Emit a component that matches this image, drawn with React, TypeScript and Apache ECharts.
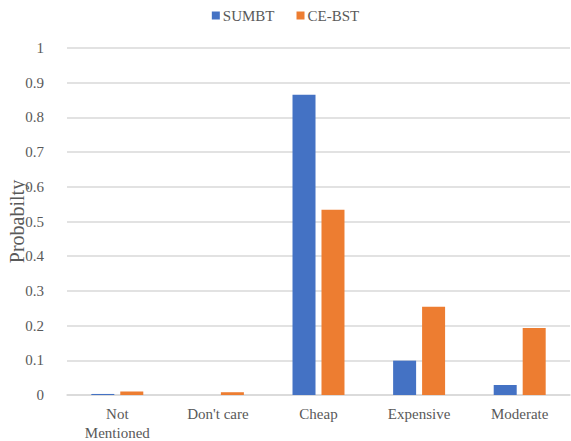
import React, { useEffect, useRef } from "react";
import * as echarts from "echarts";

const categories = ["Not\nMentioned", "Don't care", "Cheap", "Expensive", "Moderate"];
const sumbt = [0.003, 0, 0.865, 0.099, 0.029];
const ceBst = [0.01, 0.008, 0.534, 0.254, 0.193];
const seriesNames = ["SUMBT", "CE-BST"];

const FONT = "Times New Roman, Liberation Serif, DejaVu Serif, serif";

export default function App() {
  const ref = useRef<HTMLDivElement>(null);
  useEffect(() => {
    if (!ref.current) return;
    const chart = echarts.init(ref.current, undefined, { renderer: "svg" });
    chart.setOption({
      animation: false,
      textStyle: { fontFamily: FONT },
      legend: {
        top: 3,
        left: "center",
        itemWidth: 8,
        itemHeight: 8,
        itemGap: 22,
        icon: "rect",
        textStyle: { fontFamily: FONT, fontSize: 15, color: "#595959", padding: [0, 0, 0, -2] },
        data: seriesNames,
      },
      grid: { left: 67, right: 1, top: 48, bottom: 46, containLabel: false, outerBoundsMode: "none" },
      xAxis: {
        type: "category",
        data: categories,
        axisLine: { show: true, lineStyle: { color: "#d9d9d9", width: 1.5 } },
        axisTick: { show: false },
        axisLabel: { fontFamily: FONT, fontSize: 15, color: "#595959", margin: 9, lineHeight: 19 },
      },
      yAxis: {
        type: "value",
        min: 0,
        max: 1,
        interval: 0.1,
        name: "Probabilty",
        nameLocation: "middle",
        nameGap: 40,
        nameMoveOverlap: false,
        nameTextStyle: { fontFamily: FONT, fontSize: 20, color: "#595959" },
        axisLine: { show: false },
        axisTick: { show: false },
        axisLabel: { fontFamily: FONT, fontSize: 15, color: "#595959", margin: 23 },
        splitLine: { lineStyle: { color: "#d9d9d9", width: 1.5 } },
      },
      series: [
        {
          name: seriesNames[0],
          type: "bar",
          data: sumbt,
          barWidth: 23,
          barGap: "26%",
          itemStyle: { color: "#4472C4" },
        },
        {
          name: seriesNames[1],
          type: "bar",
          data: ceBst,
          barWidth: 23,
          barGap: "26%",
          itemStyle: { color: "#ED7D31" },
        },
      ],
    });
    return () => chart.dispose();
  }, []);
  return <div ref={ref} style={{ width: 571, height: 441, position: "absolute", left: 0, top: 0 }} />;
}
